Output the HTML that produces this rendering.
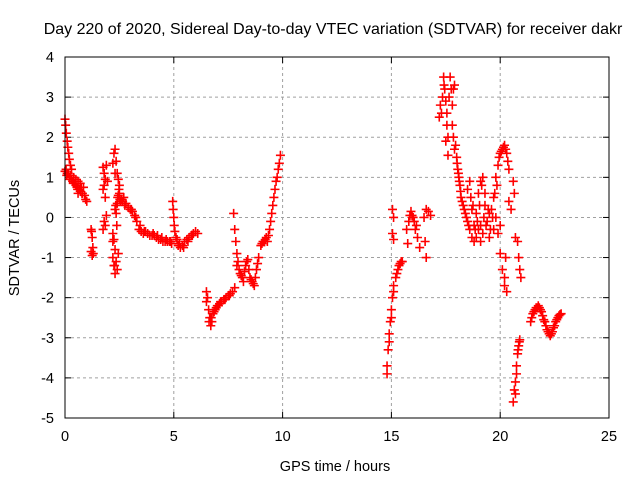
<!DOCTYPE html>
<html><head><meta charset="utf-8"><style>
html,body{margin:0;padding:0;background:#fff;}
svg{display:block;font-family:"Liberation Sans",sans-serif;}
</style></head><body>
<svg id="chart" width="640" height="480" viewBox="0 0 640 480">
<text x="333" y="34" font-size="16" text-anchor="middle">Day 220 of 2020, Sidereal Day-to-day VTEC variation (SDTVAR) for receiver dakr</text>
<text x="335" y="471" font-size="14.5" text-anchor="middle">GPS time / hours</text>
<text x="19" y="238" font-size="14.5" text-anchor="middle" transform="rotate(-90 19 238)">SDTVAR / TECUs</text>
<g id="grid"></g><g id="ticks"></g><g id="marks"></g>
<rect x="65" y="57" width="544" height="361" fill="none" stroke="#000" stroke-width="1"/>
</svg>
<script>
const xTicks=[0,5,10,15,20,25];
const yTicks=[-5,-4,-3,-2,-1,0,1,2,3,4];
const times=[0,0.03,0.06,0.1,0.13,0.17,0.2,0.25,0.3,
0,0.05,0.1,0.15,0.2,0.25,0.3,0.35,0.4,0.45,0.5,0.55,0.6,0.65,0.7,0.75,0.8,0.85,0.9,0.95,1.0,0.5,0.6,0.7,
1.2,1.22,1.25,1.28,1.2,1.25,1.3,
1.75,1.8,1.85,1.8,1.75,1.9,1.95,1.85,1.8,1.85,1.75,1.9,
2.2,2.25,2.3,2.35,2.3,2.4,2.45,2.5,2.4,2.3,2.35,2.45,2.5,2.55,2.2,2.25,2.3,2.2,2.25,2.3,2.35,2.4,2.45,2.2,2.6,2.7,2.8,2.9,3.0,3.1,3.2,3.3,3.4,3.5,3.6,3.7,3.8,3.9,4.0,4.1,4.2,4.3,4.4,4.5,4.6,4.7,4.8,4.9,4.95,4.97,5.0,5.02,5.05,5.1,5.2,5.3,5.4,5.5,5.6,5.7,5.8,5.9,6.0,6.1,
6.5,6.55,6.5,6.6,6.65,6.7,6.75,6.8,6.9,7.0,7.1,7.2,7.3,7.4,7.5,7.6,7.7,7.8,7.75,7.8,7.85,7.9,7.95,8.0,8.1,8.2,8.3,8.4,8.5,8.6,8.7,8.8,8.9,9.0,9.1,9.2,9.3,9.4,9.5,9.6,9.7,9.8,9.9,
14.8,14.8,14.85,14.9,14.95,15.0,15.05,15.1,15.2,15.3,15.4,15.5,
15.05,15.1,15.05,15.1,15.7,15.75,15.8,15.85,15.9,16.0,16.1,16.2,16.3,16.5,16.55,16.6,16.6,16.7,16.8,
17.2,17.25,17.3,17.4,17.45,17.5,17.55,17.6,17.5,17.6,17.7,17.8,17.85,17.9,17.8,17.85,17.9,18.0,18.05,18.1,18.15,18.2,18.3,18.4,18.5,18.6,18.7,18.8,18.9,19.0,19.1,19.2,19.3,18.5,18.6,18.7,18.8,19.0,19.1,19.2,19.4,19.5,19.6,19.7,19.8,19.9,20.0,20.1,20.2,20.3,20.35,20.4,19.8,19.9,20.0,20.1,20.2,20.3,20.6,20.65,20.7,20.8,20.85,20.9,20.95,
20.6,20.65,20.7,20.75,20.8,20.85,20.9,
21.4,21.5,21.6,21.7,21.8,21.9,22.0,22.1,22.2,22.3,22.4,22.5,22.6,22.7,22.8,
0.08,0.22,0.38,0.58,0.78,2.33,2.38,2.28,2.42,2.48,2.52,2.65,2.75,3.05,3.25,3.45,3.65,4.05,4.25,4.45,4.65,4.85,5.15,5.25,5.45,5.65,5.85,
6.62,6.72,6.85,6.95,7.05,7.15,7.35,7.55,7.9,8.05,8.15,8.25,8.35,8.45,8.55,8.65,8.75,8.85,9.05,9.15,9.25,9.35,9.45,9.55,9.65,9.75,9.85,
14.9,15.0,15.1,15.25,15.35,15.45,15.95,16.05,16.15,
17.35,17.42,17.55,17.65,17.75,17.95,18.02,18.08,18.12,18.18,18.25,18.35,18.45,18.55,18.65,18.75,18.85,18.95,19.05,19.15,19.25,19.35,19.45,19.55,19.65,19.75,19.85,19.95,20.05,20.15,20.25,18.9,19.1,19.3,19.5,19.7,20.0,20.2,20.25,20.4,20.5,
20.7,20.75,20.82,20.88,21.45,21.55,21.65,21.75,21.85,21.95,22.05,22.15,22.25,22.35,22.45,22.55,22.65,22.75];
const values=[2.45,2.3,2.1,1.9,1.75,1.6,1.45,1.3,1.2,
1.15,1.2,1.1,1.1,1.0,1.05,0.95,0.9,1.0,0.85,0.8,0.75,0.9,0.7,0.65,0.75,0.6,0.75,0.55,0.45,0.4,0.95,0.6,0.85,
-0.3,-0.35,-0.5,-0.75,-0.85,-0.95,-0.9,
1.25,1.1,0.95,0.8,0.7,1.3,0.9,0.5,-0.1,-0.2,-0.3,0.05,
1.35,1.6,1.7,1.4,1.1,1.1,0.95,0.8,0.35,0.2,0.1,0.55,0.6,0.4,-0.4,-0.55,-0.8,-1.0,-1.2,-1.4,-1.1,-1.3,-0.9,-0.6,0.45,0.5,0.35,0.25,0.2,0.15,0.05,-0.1,-0.3,-0.35,-0.4,-0.35,-0.4,-0.45,-0.45,-0.45,-0.5,-0.55,-0.55,-0.6,-0.6,-0.6,-0.6,-0.65,0.4,0.2,0.0,-0.2,-0.35,-0.5,-0.7,-0.75,-0.7,-0.6,-0.55,-0.5,-0.45,-0.4,-0.35,-0.4,
-1.85,-2.0,-2.1,-2.3,-2.5,-2.7,-2.6,-2.4,-2.3,-2.2,-2.15,-2.1,-2.05,-2.0,-1.95,-1.9,-1.85,-1.75,0.1,-0.3,-0.6,-0.9,-1.1,-1.3,-1.45,-1.6,-1.2,-1.05,-1.5,-1.6,-1.7,-1.3,-1.0,-0.7,-0.6,-0.55,-0.6,-0.3,0.1,0.5,0.9,1.2,1.55,
-3.9,-3.7,-3.3,-2.9,-2.6,-2.3,-2.0,-1.7,-1.5,-1.3,-1.15,-1.1,
0.2,0.0,-0.4,-0.55,-0.3,-0.65,-0.1,0.05,0.15,0.0,-0.3,-0.5,-0.75,0.0,-0.6,-1.0,0.2,0.15,0.05,
2.5,2.8,2.6,3.5,3.2,2.9,2.3,2.0,1.9,1.55,3.5,2.8,3.2,3.3,2.3,2.0,1.7,1.5,1.2,1.0,0.8,0.5,0.3,0.1,-0.1,-0.3,-0.5,-0.2,0.1,0.6,0.9,1.0,0.6,0.7,0.9,0.2,-0.6,-0.3,-0.6,-0.4,-0.1,-0.5,0.2,0.5,1.0,1.3,1.6,1.7,1.8,1.6,1.4,1.2,0.0,-0.4,-0.9,-1.3,-1.7,-1.85,0.9,0.6,-0.5,-0.6,-1.0,-1.3,-1.5,
-4.6,-4.3,-4.1,-3.7,-3.4,-3.2,-3.05,
-2.6,-2.4,-2.3,-2.25,-2.25,-2.35,-2.55,-2.7,-2.85,-2.95,-2.85,-2.7,-2.55,-2.45,-2.4,
1.05,0.95,0.85,0.7,0.6,0.3,-0.2,-1.2,0.5,0.7,0.45,0.4,0.3,0.2,0.0,-0.2,-0.35,-0.4,-0.45,-0.5,-0.55,-0.6,-0.55,-0.65,-0.75,-0.6,-0.45,
-2.6,-2.5,-2.35,-2.25,-2.2,-2.1,-2.05,-1.95,-1.2,-1.4,-1.5,-1.35,-1.1,-1.3,-1.55,-1.65,-1.5,-1.15,-0.65,-0.6,-0.5,-0.45,-0.1,0.3,0.7,1.0,1.35,
-3.1,-2.5,-1.85,-1.4,-1.2,-1.1,0.05,-0.1,-0.2,
3.0,3.3,2.6,3.0,3.2,1.8,1.35,1.1,0.9,0.65,0.4,0.2,0.0,-0.2,0.5,0.3,-0.3,-0.1,0.3,0.8,0.0,-0.2,0.2,-0.3,0.0,0.6,0.8,1.5,1.65,1.75,1.7,-0.5,-0.2,0.3,0.1,-0.3,-0.2,-1.5,-1.0,0.4,0.2,
-4.4,-3.9,-3.3,-3.1,-2.5,-2.35,-2.25,-2.2,-2.3,-2.45,-2.6,-2.8,-2.9,-2.9,-2.75,-2.6,-2.5,-2.42];
const NS='http://www.w3.org/2000/svg';
const X0=65,X1=609,Y0=418,Y1=57;
function xScale(t){return X0+(t-0)/(25-0)*(X1-X0);}
function yScale(v){return Y0-(v+5)/(4+5)*(Y0-Y1);}
function mk(tag,a){const e=document.createElementNS(NS,tag);for(const k in a)e.setAttribute(k,a[k]);return e;}
const grid=document.getElementById('grid'),ticks=document.getElementById('ticks'),marks=document.getElementById('marks');
xTicks.forEach(t=>{const x=xScale(t);
 if(t>0&&t<25){const g=mk('line',{x1:x,x2:x,y1:Y0,y2:Y1,stroke:'#a0a0a0','stroke-dasharray':'3,3'});
 
 grid.appendChild(g);}
 const l=mk('text',{x:x,y:Y0+23,'font-size':'14.5','text-anchor':'middle'});l.textContent=t;
 
 ticks.appendChild(l);
 ticks.appendChild(mk('line',{x1:x,x2:x,y1:Y0,y2:Y0-6,stroke:'#000'}));
 ticks.appendChild(mk('line',{x1:x,x2:x,y1:Y1,y2:Y1+6,stroke:'#000'}));});
yTicks.forEach(v=>{const y=yScale(v);
 if(v>-5&&v<4){const g=mk('line',{x1:X0,x2:X1,y1:y,y2:y,stroke:'#a0a0a0','stroke-dasharray':'3,3'});
 
 grid.appendChild(g);}
 const l=mk('text',{x:X0-11,y:y+5,'font-size':'14.5','text-anchor':'end'});l.textContent=v;
 
 ticks.appendChild(l);
 ticks.appendChild(mk('line',{x1:X0,x2:X0+6,y1:y,y2:y,stroke:'#000'}));
 ticks.appendChild(mk('line',{x1:X1,x2:X1-6,y1:y,y2:y,stroke:'#000'}));});
times.forEach((t,i)=>{const x=xScale(t),y=yScale(values[i]);
 const p=mk('path',{d:`M${x-4.5} ${y}H${x+4.5}M${x} ${y-4.5}V${y+4.5}`,stroke:'#ff0000','stroke-width':'1.6',fill:'none'});
 
 marks.appendChild(p);});
</script>
</body></html>
